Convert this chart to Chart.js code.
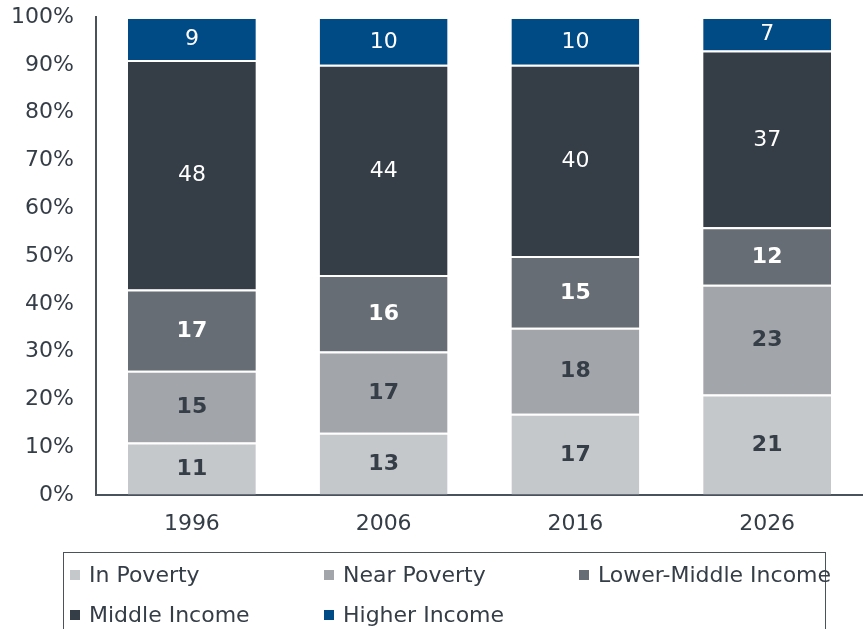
<!DOCTYPE html>
<html>
<head>
<meta charset="utf-8">
<script src="https://cdn.jsdelivr.net/npm/chart.js@4/dist/chart.umd.min.js"></script>
<style>
    html, body { margin: 0; padding: 0; background: #fff; }
    #wrap { position: relative; width: 863px; height: 629px; overflow: hidden; }
    #legend {
        position: absolute; left: 63px; top: 552px; width: 763px; height: 100px;
        border: 1.5px solid #4a525c; box-sizing: border-box;
        font-family: "DejaVu Sans", Verdana, sans-serif; font-size: 22px; color: #353d47;
    }
    .item { position: absolute; display: flex; align-items: center; white-space: nowrap; }
    .sq { width: 10px; height: 10px; margin-right: 9px; }
</style>
</head>
<body>
<div id="wrap">
    <canvas id="chart" width="863" height="629"></canvas>
    <div id="legend"></div>
</div>
<script>
// data
const years = ['1996', '2006', '2016', '2026'];
const inPoverty = [11, 13, 17, 21];
const nearPoverty = [15, 17, 18, 23];
const lowerMiddle = [17, 16, 15, 12];
const middleIncome = [48, 44, 40, 37];
const higherIncome = [9, 10, 10, 7];
const yTicks = [0, 10, 20, 30, 40, 50, 60, 70, 80, 90, 100];

const FONT = '"DejaVu Sans", Verdana, sans-serif';
const TEXT = '#353d47';

const seriesInfo = [
    { label: 'In Poverty', data: inPoverty, color: '#c5c8cb', lbl: TEXT, bold: true },
    { label: 'Near Poverty', data: nearPoverty, color: '#a2a5a9', lbl: TEXT, bold: true },
    { label: 'Lower-Middle Income', data: lowerMiddle, color: '#676d74', lbl: '#ffffff', bold: true },
    { label: 'Middle Income', data: middleIncome, color: '#353d47', lbl: '#ffffff', bold: false },
    { label: 'Higher Income', data: higherIncome, color: '#004a86', lbl: '#ffffff', bold: false }
];

// draws the numbers in the middle of each segment
const segLabels = {
    id: 'segLabels',
    afterDatasetsDraw(chart) {
        const ctx = chart.ctx;
        ctx.save();
        ctx.textAlign = 'center';
        ctx.textBaseline = 'middle';
        chart.data.datasets.forEach((ds, i) => {
            const meta = chart.getDatasetMeta(i);
            const info = seriesInfo[i];
            ctx.fillStyle = info.lbl;
            ctx.font = (info.bold ? 'bold ' : '') + '22px ' + FONT;
            meta.data.forEach((bar, j) => {
                const y = (bar.y + bar.base) / 2;
                ctx.fillText(String(ds.data[j]), bar.x, y + 1);
            });
        });
        ctx.restore();
    }
};

const chart = new Chart(document.getElementById('chart'), {
    type: 'bar',
    data: {
        labels: years,
        datasets: seriesInfo.map(s => ({
            label: s.label,
            data: s.data,
            backgroundColor: s.color,
            borderColor: '#ffffff',
            borderWidth: { top: 2, bottom: 0, left: 0, right: 0 },
            borderSkipped: false,
            barPercentage: 0.667,
            categoryPercentage: 1.0
        }))
    },
    options: {
        responsive: false,
        animation: false,
        layout: { padding: { top: 17, bottom: 94, left: 0, right: 0 } },
        plugins: {
            legend: { display: false },
            tooltip: { enabled: false }
        },
        scales: {
            x: {
                stacked: true,
                grid: { display: false, drawTicks: false },
                border: { color: '#4a525c', width: 2 },
                ticks: { color: TEXT, font: { family: FONT, size: 22 }, padding: 16 },
                afterFit(axis) { axis.height = 40; }
            },
            y: {
                stacked: true,
                min: 0,
                max: 100,
                afterBuildTicks(axis) { axis.ticks = yTicks.map(v => ({ value: v })); },
                // invisible tick marks give the gap between labels and axis line
                grid: {
                    display: true,
                    drawOnChartArea: false,
                    drawTicks: true,
                    tickLength: 22,
                    tickColor: 'rgba(0,0,0,0)'
                },
                border: { color: '#4a525c', width: 2 },
                ticks: {
                    color: TEXT,
                    font: { family: FONT, size: 22 },
                    padding: 0,
                    callback: v => v + '%'
                },
                afterFit(axis) { axis.width = 96; }
            }
        }
    },
    plugins: [segLabels]
});

// legend in a bordered box, three columns
const legendEl = document.getElementById('legend');
const colX = [6, 260, 515];
const rowY = [22, 62];
seriesInfo.forEach((s, i) => {
    const el = document.createElement('div');
    el.className = 'item';
    el.style.left = colX[i % 3] + 'px';
    el.style.top = (rowY[Math.floor(i / 3)] - 13) + 'px';
    el.innerHTML = '<span class="sq" style="background:' + s.color + '"></span>' + s.label;
    legendEl.appendChild(el);
});
</script>
</body>
</html>
